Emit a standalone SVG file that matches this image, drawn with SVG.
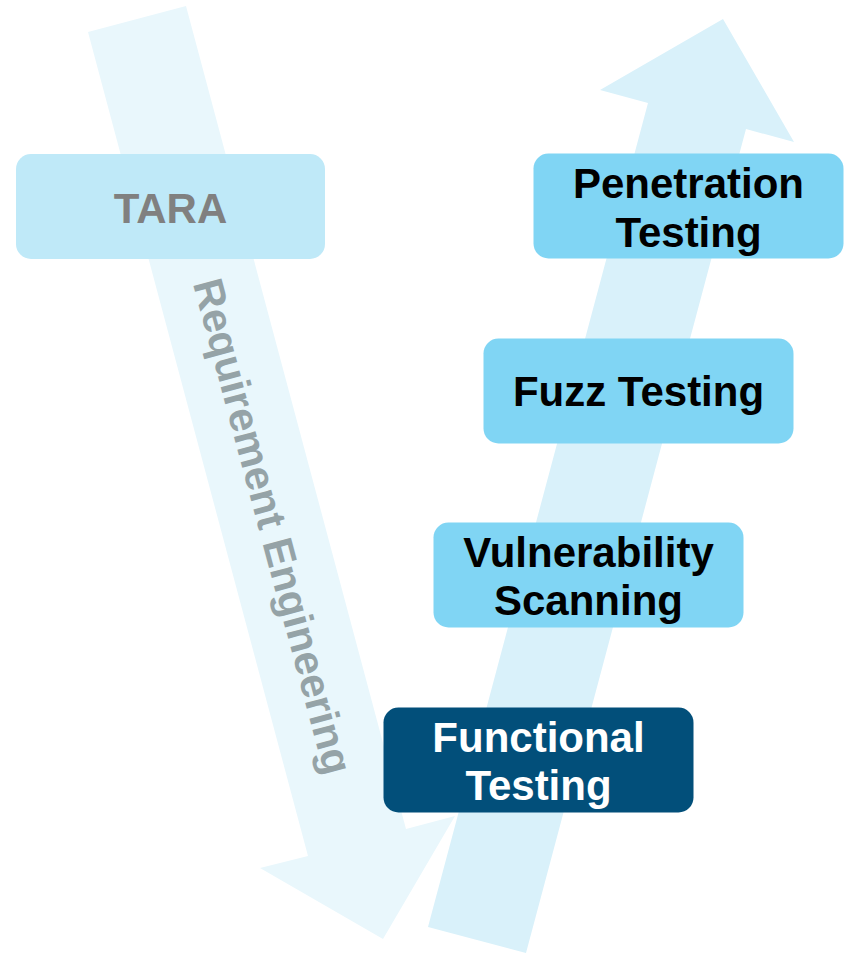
<svg xmlns="http://www.w3.org/2000/svg" width="850" height="953" viewBox="0 0 850 953">
<style>
.lbl{font-family:"Liberation Sans",Arial,sans-serif;font-weight:bold;font-size:42px;text-anchor:middle}
.light{fill:#80D5F4}
.dark{fill:#024F7A}
.tara{fill:#BFE9F8}
</style>
<rect width="850" height="953" fill="#ffffff"/>
<g id="connectors">
<polygon id="arrow-down" points="88,32 186,6 406,829 455,816 383,939 260,868 308,856" fill="#E9F7FC"/>
<polygon id="arrow-up" points="428,927 648,103 600,90 723,19 794,142 746,129 526,953" fill="#D9F1FA"/>
<text transform="translate(259,530) rotate(75)" font-family="'Liberation Sans',Arial,sans-serif" font-weight="bold" font-size="42" fill="#95A3A7" text-anchor="middle">Requirement Engineering</text>
</g>
<g id="tara">
<rect class="tara" x="16" y="154" width="309" height="105" rx="15"/>
<text class="lbl" x="170.5" y="222.5" fill="#808080">TARA</text>
</g>
<g id="penetration">
<rect class="light" x="533.5" y="153.5" width="310" height="105" rx="15"/>
<text class="lbl" x="688.5" y="197.5" fill="#000">Penetration</text>
<text class="lbl" x="688.5" y="246.5" fill="#000">Testing</text>
</g>
<g id="fuzz">
<rect class="light" x="483.5" y="338.5" width="310" height="105" rx="15"/>
<text class="lbl" x="638.5" y="406" fill="#000">Fuzz Testing</text>
</g>
<g id="vuln">
<rect class="light" x="433.5" y="522.5" width="310" height="105" rx="15"/>
<text class="lbl" x="588.5" y="566.5" fill="#000">Vulnerability</text>
<text class="lbl" x="588.5" y="614.5" fill="#000">Scanning</text>
</g>
<g id="functional">
<rect class="dark" x="383.5" y="707.5" width="310" height="105" rx="15"/>
<text class="lbl" x="538.5" y="751.5" fill="#fff">Functional</text>
<text class="lbl" x="538.5" y="799.5" fill="#fff">Testing</text>
</g>
</svg>
